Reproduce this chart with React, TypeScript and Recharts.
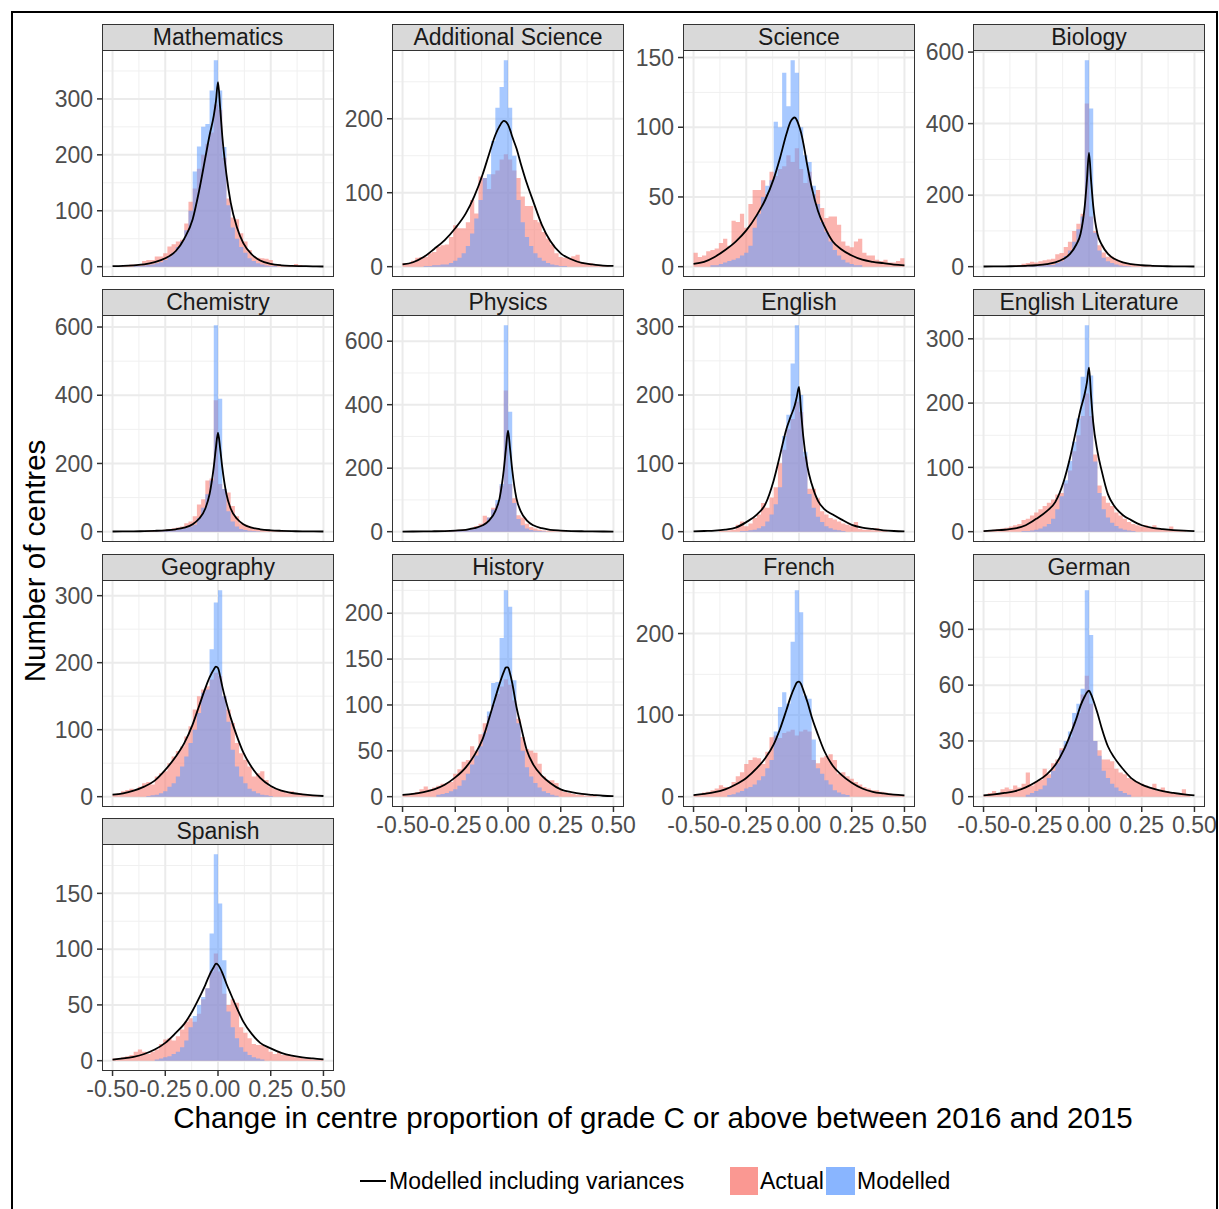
import { Area, CartesianGrid, ComposedChart, Line, XAxis, YAxis } from 'recharts'

const FONT = '"Liberation Sans", Arial, Helvetica, sans-serif'
const ACTUAL_FILL = '#F8766D'
const MODELLED_FILL = '#619CFF'

// histogram bins: 50 bins of 0.02 from -0.5 to 0.5
const BIN_START = -0.5
const BIN_WIDTH = 0.02
const X_TICKS = [-0.5, -0.25, 0, 0.25, 0.5]
const X_MINOR = [-0.375, -0.125, 0.125, 0.375]

// x positions of the "modelled including variances" curve
const CURVE_X = [-0.5, -0.45, -0.4, -0.35, -0.3, -0.25, -0.2, -0.16, -0.12, -0.09, -0.06, -0.04, -0.02, -0.01, 0,
  0.01, 0.02, 0.04, 0.06, 0.09, 0.12, 0.16, 0.2, 0.25, 0.3, 0.35, 0.4, 0.45, 0.5]

const MATH_ACTUAL = [0, 0, 1, 2, 4, 4, 5, 10, 12, 12, 18, 18, 24, 36, 40, 45, 48, 77, 116, 140,
  175, 200, 220, 240, 290, 280, 195, 122, 88, 85, 60, 45, 30, 18, 16, 15, 14, 12, 5, 4,
  3, 2, 2, 5, 3, 1, 0, 0, 0, 0]
const MATH_MODELLED = [0, 0, 0, 0, 0, 1, 1, 2, 3, 4, 6, 8, 12, 18, 25, 35, 45, 65, 100, 170,
  215, 250, 255, 315, 369, 315, 214, 110, 70, 50, 35, 25, 15, 10, 6, 4, 2, 1, 1, 0,
  0, 0, 0, 0, 0, 0, 0, 0, 0, 0]
const MATH_CURVE = [1, 1.5, 2.5, 4, 8, 15, 28, 50, 85, 135, 195, 235, 270, 295, 330,
  285, 235, 165, 115, 70, 42, 22, 11, 5, 2.5, 1.5, 1, 0.5, 0.3]
const MATH_TICKS = [0, 100, 200, 300]

const ADDSCI_ACTUAL = [5, 5, 8, 12, 13, 13, 18, 20, 27, 29, 30, 40, 56, 52, 52, 60, 90, 72, 122, 120,
  105, 125, 130, 145, 152, 145, 130, 120, 95, 82, 82, 63, 60, 47, 38, 30, 18, 13, 12, 12,
  14, 16, 6, 5, 5, 3, 2, 1, 1, 0]
const ADDSCI_MODELLED = [0, 0, 0, 0, 0, 1, 1, 2, 2, 3, 3, 5, 8, 12, 18, 28, 45, 65, 90, 120,
  125, 170, 215, 243, 279, 215, 150, 90, 60, 40, 28, 18, 12, 8, 5, 3, 2, 1, 1, 0,
  0, 0, 0, 0, 0, 0, 0, 0, 0, 0]
const ADDSCI_CURVE = [3, 6, 13, 24, 36, 52, 72, 95, 125, 152, 178, 190, 197, 196, 192,
  185, 176, 160, 140, 112, 88, 57, 35, 18, 10, 5, 3, 1.5, 1]
const ADDSCI_TICKS = [0, 100, 200]

const SCIENCE_ACTUAL = [10, 7, 8, 11, 12, 13, 17, 20, 15, 33, 32, 38, 28, 45, 55, 55, 62, 52, 68, 65,
  70, 72, 80, 75, 85, 70, 60, 68, 52, 55, 42, 35, 36, 36, 30, 18, 15, 14, 18, 20,
  10, 8, 8, 5, 4, 5, 3, 3, 4, 6]
const SCIENCE_MODELLED = [0, 0, 0, 0, 1, 1, 2, 3, 4, 5, 6, 8, 10, 15, 28, 38, 50, 58, 62, 104,
  100, 139, 115, 148, 139, 100, 80, 75, 58, 45, 32, 25, 18, 12, 8, 5, 3, 2, 1, 1,
  0, 0, 0, 0, 0, 0, 0, 0, 0, 0]
const SCIENCE_CURVE = [2, 3.5, 7, 12, 18, 26, 37, 48, 63, 78, 95, 104, 107, 105, 101,
  96, 89, 72, 57, 40, 29, 18, 12.5, 8, 5, 3.5, 2.5, 1.5, 1]
const SCIENCE_TICKS = [0, 50, 100, 150]

const BIO_ACTUAL = [0, 0, 1, 1, 1, 2, 2, 3, 5, 8, 10, 14, 12, 15, 18, 20, 22, 35, 38, 55,
  70, 100, 120, 148, 456, 140, 100, 60, 40, 28, 28, 20, 15, 10, 8, 5, 3, 3, 2, 2,
  1, 1, 1, 1, 2, 0, 0, 0, 0, 0]
const BIO_MODELLED = [0, 0, 0, 0, 0, 0, 0, 0, 0, 1, 1, 2, 2, 3, 4, 5, 5, 10, 15, 30,
  45, 70, 105, 140, 577, 442, 95, 45, 25, 15, 10, 6, 3, 2, 1, 0, 0, 0, 0, 0,
  0, 0, 0, 0, 0, 0, 0, 0, 0, 0]
const BIO_CURVE = [0.5, 0.7, 1, 1.5, 2.5, 4, 7, 12, 22, 36, 62, 92, 170, 240, 318,
  240, 170, 92, 62, 36, 22, 12, 7, 4, 2.5, 1.5, 1, 0.7, 0.5]
const BIO_TICKS = [0, 200, 400, 600]

const CHEM_ACTUAL = [0, 0, 0, 0, 1, 1, 2, 2, 3, 3, 4, 5, 6, 8, 10, 12, 15, 25, 30, 45,
  80, 95, 150, 156, 385, 140, 125, 115, 75, 45, 25, 20, 15, 10, 8, 6, 4, 3, 3, 2,
  2, 1, 1, 1, 0, 0, 0, 0, 0, 0]
const CHEM_MODELLED = [0, 0, 0, 0, 0, 0, 0, 0, 0, 0, 1, 1, 2, 3, 4, 6, 8, 12, 15, 20,
  40, 70, 110, 150, 605, 390, 125, 60, 30, 15, 8, 5, 3, 2, 1, 0, 0, 0, 0, 0,
  0, 0, 0, 0, 0, 0, 0, 0, 0, 0]
const CHEM_CURVE = [0.5, 0.7, 1, 1.5, 2.5, 4, 7, 12, 22, 38, 68, 110, 190, 245, 290,
  245, 190, 110, 68, 38, 22, 12, 7, 4, 2.5, 1.5, 1, 0.7, 0.5]
const CHEM_TICKS = [0, 200, 400, 600]

const PHYS_ACTUAL = [0, 0, 0, 0, 0, 1, 1, 2, 2, 3, 3, 4, 5, 6, 7, 8, 12, 18, 25, 50,
  45, 75, 88, 145, 445, 150, 105, 52, 45, 25, 15, 10, 6, 4, 3, 2, 1, 1, 1, 0,
  0, 0, 0, 0, 0, 0, 0, 0, 0, 0]
const PHYS_MODELLED = [0, 0, 0, 0, 0, 0, 0, 0, 0, 0, 0, 1, 1, 2, 3, 5, 8, 12, 18, 25,
  45, 70, 100, 150, 650, 378, 90, 40, 20, 10, 5, 3, 2, 1, 0, 0, 0, 0, 0, 0,
  0, 0, 0, 0, 0, 0, 0, 0, 0, 0]
const PHYS_CURVE = [0.4, 0.6, 0.9, 1.3, 2, 3.5, 6, 11, 20, 35, 65, 105, 195, 260, 318,
  260, 195, 105, 65, 35, 20, 11, 6, 3.5, 2, 1.3, 0.9, 0.6, 0.4]
const PHYS_TICKS = [0, 200, 400, 600]

const ENG_ACTUAL = [0, 0, 0, 0, 0, 0, 1, 1, 2, 3, 10, 15, 8, 12, 20, 25, 42, 35, 50, 65,
  100, 120, 150, 165, 190, 175, 110, 63, 63, 49, 30, 25, 20, 18, 15, 12, 10, 8, 14, 4,
  3, 3, 2, 5, 1, 1, 0, 0, 0, 0]
const ENG_MODELLED = [0, 0, 0, 0, 0, 0, 0, 0, 0, 0, 0, 1, 1, 2, 3, 5, 8, 15, 25, 40,
  65, 140, 171, 246, 302, 200, 117, 55, 35, 22, 14, 8, 5, 3, 2, 1, 0, 0, 0, 0,
  0, 0, 0, 0, 0, 0, 0, 0, 0, 0]
const ENG_CURVE = [0.5, 1, 1.5, 3, 6, 14, 25, 40, 75, 112, 150, 168, 185, 198, 212,
  175, 140, 95, 70, 45, 33, 25, 18, 10, 6, 4, 2, 1, 0.5]
const ENG_TICKS = [0, 100, 200, 300]

const ENGLIT_ACTUAL = [2, 2, 3, 4, 5, 6, 8, 10, 12, 18, 20, 25, 30, 35, 40, 45, 50, 58, 60, 75,
  95, 125, 150, 180, 215, 180, 120, 72, 55, 45, 40, 30, 25, 20, 15, 12, 10, 8, 10, 6,
  10, 5, 4, 3, 8, 2, 1, 1, 0, 0]
const ENGLIT_MODELLED = [0, 0, 0, 0, 0, 0, 0, 0, 0, 1, 1, 2, 3, 5, 8, 12, 20, 35, 55, 80,
  110, 140, 176, 241, 321, 243, 109, 60, 35, 22, 14, 9, 5, 3, 2, 1, 0, 0, 0, 0,
  0, 0, 0, 0, 0, 0, 0, 0, 0, 0]
const ENGLIT_CURVE = [1, 2, 3, 5, 10, 20, 32, 46, 78, 115, 160, 190, 215, 232, 255,
  210, 170, 125, 95, 58, 40, 26, 18, 10, 6, 4, 2.5, 1.5, 1]
const ENGLIT_TICKS = [0, 100, 200, 300]

const GEO_ACTUAL = [3, 5, 8, 10, 12, 10, 15, 20, 22, 18, 30, 35, 38, 50, 60, 68, 75, 90, 105, 130,
  150, 160, 165, 175, 185, 180, 150, 130, 110, 80, 65, 55, 45, 30, 35, 38, 25, 15, 12, 10,
  8, 5, 8, 6, 5, 4, 2, 1, 1, 0]
const GEO_MODELLED = [0, 0, 0, 0, 0, 0, 0, 0, 1, 2, 3, 5, 8, 15, 20, 30, 45, 60, 80, 100,
  125, 155, 160, 220, 290, 308, 150, 112, 70, 45, 30, 20, 12, 8, 5, 3, 2, 1, 0, 0,
  0, 0, 0, 0, 0, 0, 0, 0, 0, 0]
const GEO_CURVE = [3, 5, 9, 15, 24, 40, 60, 80, 108, 135, 162, 178, 190, 194, 192,
  180, 165, 140, 118, 90, 66, 44, 28, 16, 9, 5.5, 3.5, 2, 1]
const GEO_TICKS = [0, 100, 200, 300]

const HIST_ACTUAL = [2, 2, 4, 5, 8, 11, 8, 10, 12, 14, 15, 16, 25, 30, 38, 40, 55, 50, 68, 80,
  88, 100, 112, 120, 128, 122, 105, 85, 65, 52, 50, 48, 36, 22, 18, 18, 15, 8, 5, 4,
  3, 2, 2, 1, 1, 1, 0, 0, 0, 0]
const HIST_MODELLED = [0, 0, 0, 0, 0, 0, 0, 0, 2, 3, 4, 6, 8, 12, 18, 25, 35, 45, 55, 70,
  93, 124, 125, 173, 225, 207, 127, 80, 50, 32, 22, 15, 10, 6, 4, 2, 1, 0, 0, 0,
  0, 0, 0, 0, 0, 0, 0, 0, 0, 0]
const HIST_CURVE = [2, 3, 5, 8, 13, 21, 32, 45, 63, 85, 108, 123, 136, 141, 141,
  134, 124, 98, 78, 50, 35, 23, 15, 8, 5, 3, 2, 1, 0.5]
const HIST_TICKS = [0, 50, 100, 150, 200]

const FRENCH_ACTUAL = [2, 3, 5, 6, 8, 10, 14, 12, 12, 18, 25, 30, 40, 45, 48, 47, 40, 55, 73, 75,
  72, 78, 80, 82, 75, 80, 82, 80, 45, 41, 48, 50, 52, 45, 28, 30, 25, 22, 18, 15,
  12, 10, 8, 8, 6, 5, 4, 3, 2, 1]
const FRENCH_MODELLED = [0, 0, 0, 0, 0, 0, 0, 0, 2, 3, 5, 7, 10, 12, 15, 20, 25, 35, 45, 80,
  110, 128, 114, 190, 253, 226, 124, 120, 70, 35, 28, 20, 15, 8, 5, 3, 2, 0, 0, 0,
  0, 0, 0, 0, 0, 0, 0, 0, 0, 0]
const FRENCH_CURVE = [2, 3.5, 5.5, 9, 15, 23, 35, 47, 64, 83, 106, 122, 135, 140, 141,
  138, 131, 116, 98, 76, 56, 38, 27, 17, 10, 6, 4, 2.5, 1.5]
const FRENCH_TICKS = [0, 100, 200]

const GERMAN_ACTUAL = [1, 2, 3, 2, 4, 5, 4, 6, 5, 7, 13, 6, 8, 9, 15, 12, 18, 20, 26, 28,
  32, 40, 45, 55, 65, 50, 30, 25, 20, 20, 19, 15, 13, 12, 10, 9, 8, 7, 6, 5,
  7, 3, 5, 3, 2, 2, 1, 4, 1, 0]
const GERMAN_MODELLED = [0, 0, 0, 0, 0, 0, 0, 0, 0, 0, 1, 2, 3, 4, 6, 10, 14, 18, 25, 30,
  35, 45, 50, 58, 111, 87, 30, 22, 14, 10, 7, 5, 3, 2, 1, 0, 0, 0, 0, 0,
  0, 0, 0, 0, 0, 0, 0, 0, 0, 0]
const GERMAN_CURVE = [0.7, 1.2, 2, 3, 5, 8, 12, 17, 25, 33, 42, 49, 54, 56, 57,
  55, 52, 45, 37, 27, 21, 15, 10, 6.5, 4.5, 3, 2, 1.2, 0.7]
const GERMAN_TICKS = [0, 30, 60, 90]

const SPANISH_ACTUAL = [2, 2, 3, 4, 5, 8, 10, 8, 6, 8, 10, 15, 19, 20, 18, 22, 28, 35, 38, 35,
  42, 55, 65, 80, 96, 80, 60, 50, 55, 52, 30, 25, 20, 15, 14, 14, 12, 8, 6, 8,
  5, 6, 4, 3, 3, 2, 2, 1, 1, 1]
const SPANISH_MODELLED = [0, 0, 0, 0, 0, 0, 0, 0, 0, 0, 1, 2, 3, 4, 6, 8, 12, 18, 30, 40,
  50, 57, 65, 114, 185, 141, 90, 44, 30, 20, 12, 8, 5, 3, 2, 1, 0, 0, 0, 0,
  0, 0, 0, 0, 0, 0, 0, 0, 0, 0]
const SPANISH_CURVE = [1, 2, 3.5, 6, 10, 16, 25, 33, 45, 56, 68, 77, 84, 87, 86,
  83, 79, 69, 60, 47, 35, 24, 16, 11, 7, 4.5, 3, 2, 1.2]
const SPANISH_TICKS = [0, 50, 100, 150]

const PANELS = [
  { name: 'Mathematics', actual: MATH_ACTUAL, modelled: MATH_MODELLED, curve: MATH_CURVE, ticks: MATH_TICKS },
  { name: 'Additional Science', actual: ADDSCI_ACTUAL, modelled: ADDSCI_MODELLED, curve: ADDSCI_CURVE, ticks: ADDSCI_TICKS },
  { name: 'Science', actual: SCIENCE_ACTUAL, modelled: SCIENCE_MODELLED, curve: SCIENCE_CURVE, ticks: SCIENCE_TICKS },
  { name: 'Biology', actual: BIO_ACTUAL, modelled: BIO_MODELLED, curve: BIO_CURVE, ticks: BIO_TICKS },
  { name: 'Chemistry', actual: CHEM_ACTUAL, modelled: CHEM_MODELLED, curve: CHEM_CURVE, ticks: CHEM_TICKS },
  { name: 'Physics', actual: PHYS_ACTUAL, modelled: PHYS_MODELLED, curve: PHYS_CURVE, ticks: PHYS_TICKS },
  { name: 'English', actual: ENG_ACTUAL, modelled: ENG_MODELLED, curve: ENG_CURVE, ticks: ENG_TICKS },
  { name: 'English Literature', actual: ENGLIT_ACTUAL, modelled: ENGLIT_MODELLED, curve: ENGLIT_CURVE, ticks: ENGLIT_TICKS },
  { name: 'Geography', actual: GEO_ACTUAL, modelled: GEO_MODELLED, curve: GEO_CURVE, ticks: GEO_TICKS },
  { name: 'History', actual: HIST_ACTUAL, modelled: HIST_MODELLED, curve: HIST_CURVE, ticks: HIST_TICKS },
  { name: 'French', actual: FRENCH_ACTUAL, modelled: FRENCH_MODELLED, curve: FRENCH_CURVE, ticks: FRENCH_TICKS },
  { name: 'German', actual: GERMAN_ACTUAL, modelled: GERMAN_MODELLED, curve: GERMAN_CURVE, ticks: GERMAN_TICKS },
  { name: 'Spanish', actual: SPANISH_ACTUAL, modelled: SPANISH_MODELLED, curve: SPANISH_CURVE, ticks: SPANISH_TICKS },
]

// facet grid geometry (page pixels)
const COL_LEFT = [102, 392, 683, 973]
const STRIP_TOP = [24, 289, 554, 818]
const PANEL_W = 232
const PANEL_H = 227
const STRIP_H = 27
const AXIS_W = 70
const PAD = 14 // room round the plot so tick labels at the edges are not cut
const PAD_RIGHT = 34

const tickStyle = { fontSize: 23, fill: '#4D4D4D', fontFamily: FONT }

function toSteps(values: number[]) {
  const pts = values.map((y, i) => ({ x: BIN_START + i * BIN_WIDTH, y }))
  pts.push({ x: BIN_START + values.length * BIN_WIDTH, y: values[values.length - 1] })
  return pts
}

function Panel({ p, left, top, showX }: { p: (typeof PANELS)[number]; left: number; top: number; showX: boolean }) {
  const maxY = Math.max(...p.actual, ...p.modelled, ...p.curve)
  const lo = -0.05 * maxY
  const hi = 1.05 * maxY
  const step = p.ticks[1] - p.ticks[0]
  const minorY = [p.ticks[0] - step / 2, ...p.ticks.map((t) => t + step / 2)].filter((v) => v >= lo && v <= hi)
  const curve = CURVE_X.map((x, i) => ({ x, y: p.curve[i] }))
  const plotTop = top + STRIP_H - 1

  return (
    <>
      <div
        style={{
          position: 'absolute',
          left,
          top,
          width: PANEL_W,
          height: STRIP_H,
          boxSizing: 'border-box',
          background: '#D9D9D9',
          border: '1.5px solid #333333',
          color: '#1A1A1A',
          fontSize: 23,
          lineHeight: '25px',
          textAlign: 'center',
          whiteSpace: 'nowrap',
        }}
      >
        {p.name}
      </div>
      <div style={{ position: 'absolute', left: left - AXIS_W, top: plotTop - PAD }}>
        <ComposedChart
          width={AXIS_W + PANEL_W + PAD_RIGHT}
          height={PANEL_H + PAD + (showX ? 42 : PAD)}
          margin={{ top: PAD, right: PAD_RIGHT, bottom: showX ? 0 : PAD, left: 0 }}
        >
          <CartesianGrid
            horizontalValues={minorY}
            verticalValues={X_MINOR}
            stroke="#F0F0F0"
            strokeWidth={1}
          />
          <CartesianGrid
            horizontalValues={p.ticks}
            verticalValues={X_TICKS}
            stroke="#EBEBEB"
            strokeWidth={2}
          />
          <XAxis
            type="number"
            dataKey="x"
            domain={[-0.55, 0.55]}
            allowDataOverflow
            ticks={X_TICKS}
            interval={0}
            tickFormatter={(v: number) => v.toFixed(2)}
            hide={!showX}
            height={42}
            axisLine={false}
            tickSize={5}
            tickMargin={5}
            tickLine={{ stroke: '#333333', strokeWidth: 1.5 }}
            tick={tickStyle}
          />
          <YAxis
            type="number"
            domain={[lo, hi]}
            allowDataOverflow
            ticks={p.ticks}
            interval={0}
            width={AXIS_W}
            axisLine={false}
            tickSize={5}
            tickMargin={4}
            tickLine={{ stroke: '#333333', strokeWidth: 1.5 }}
            tick={tickStyle}
          />
          <Area
            data={toSteps(p.actual)}
            dataKey="y"
            type="stepAfter"
            baseValue={0}
            fill={ACTUAL_FILL}
            fillOpacity={0.55}
            stroke="none"
            isAnimationActive={false}
          />
          <Area
            data={toSteps(p.modelled)}
            dataKey="y"
            type="stepAfter"
            baseValue={0}
            fill={MODELLED_FILL}
            fillOpacity={0.55}
            stroke="none"
            isAnimationActive={false}
          />
          <Line
            data={curve}
            dataKey="y"
            type="monotone"
            stroke="#000000"
            strokeWidth={1.8}
            dot={false}
            isAnimationActive={false}
          />
        </ComposedChart>
      </div>
      <div
        style={{
          position: 'absolute',
          left,
          top: plotTop,
          width: PANEL_W,
          height: PANEL_H,
          boxSizing: 'border-box',
          border: '1.5px solid #333333',
          pointerEvents: 'none',
        }}
      />
    </>
  )
}

export default function App() {
  return (
    <div
      style={{
        position: 'absolute',
        left: 0,
        top: 0,
        width: 1219,
        height: 1209,
        background: '#ffffff',
        fontFamily: FONT,
        overflow: 'hidden',
      }}
    >
      {PANELS.map((p, i) => (
        <Panel
          key={p.name}
          p={p}
          left={COL_LEFT[i % 4]}
          top={STRIP_TOP[Math.floor(i / 4)]}
          showX={i >= 9}
        />
      ))}
      <div
        style={{
          position: 'absolute',
          left: 11,
          top: 11,
          width: 1207,
          height: 1210,
          boxSizing: 'border-box',
          border: '2px solid #000000',
          pointerEvents: 'none',
        }}
      />
      <div
        style={{
          position: 'absolute',
          left: 35,
          top: 561,
          transform: 'translate(-50%, -50%) rotate(-90deg)',
          fontSize: 29.5,
          color: '#000000',
          whiteSpace: 'nowrap',
        }}
      >
        Number of centres
      </div>
      <div
        style={{
          position: 'absolute',
          left: 653,
          top: 1100,
          transform: 'translateX(-50%)',
          fontSize: 29.5,
          lineHeight: '36px',
          color: '#000000',
          whiteSpace: 'nowrap',
        }}
      >
        Change in centre proportion of grade C or above between 2016 and 2015
      </div>
      <div style={{ position: 'absolute', left: 360, top: 1180, width: 26, height: 2, background: '#000000' }} />
      <div style={{ position: 'absolute', left: 389, top: 1167, fontSize: 23, lineHeight: '28px', whiteSpace: 'nowrap' }}>
        Modelled including variances
      </div>
      <div
        style={{ position: 'absolute', left: 730, top: 1167, width: 28, height: 28, background: ACTUAL_FILL, opacity: 0.75 }}
      />
      <div style={{ position: 'absolute', left: 760, top: 1167, fontSize: 23, lineHeight: '28px', whiteSpace: 'nowrap' }}>
        Actual
      </div>
      <div
        style={{ position: 'absolute', left: 826, top: 1167, width: 29, height: 28, background: MODELLED_FILL, opacity: 0.75 }}
      />
      <div style={{ position: 'absolute', left: 857, top: 1167, fontSize: 23, lineHeight: '28px', whiteSpace: 'nowrap' }}>
        Modelled
      </div>
    </div>
  )
}
